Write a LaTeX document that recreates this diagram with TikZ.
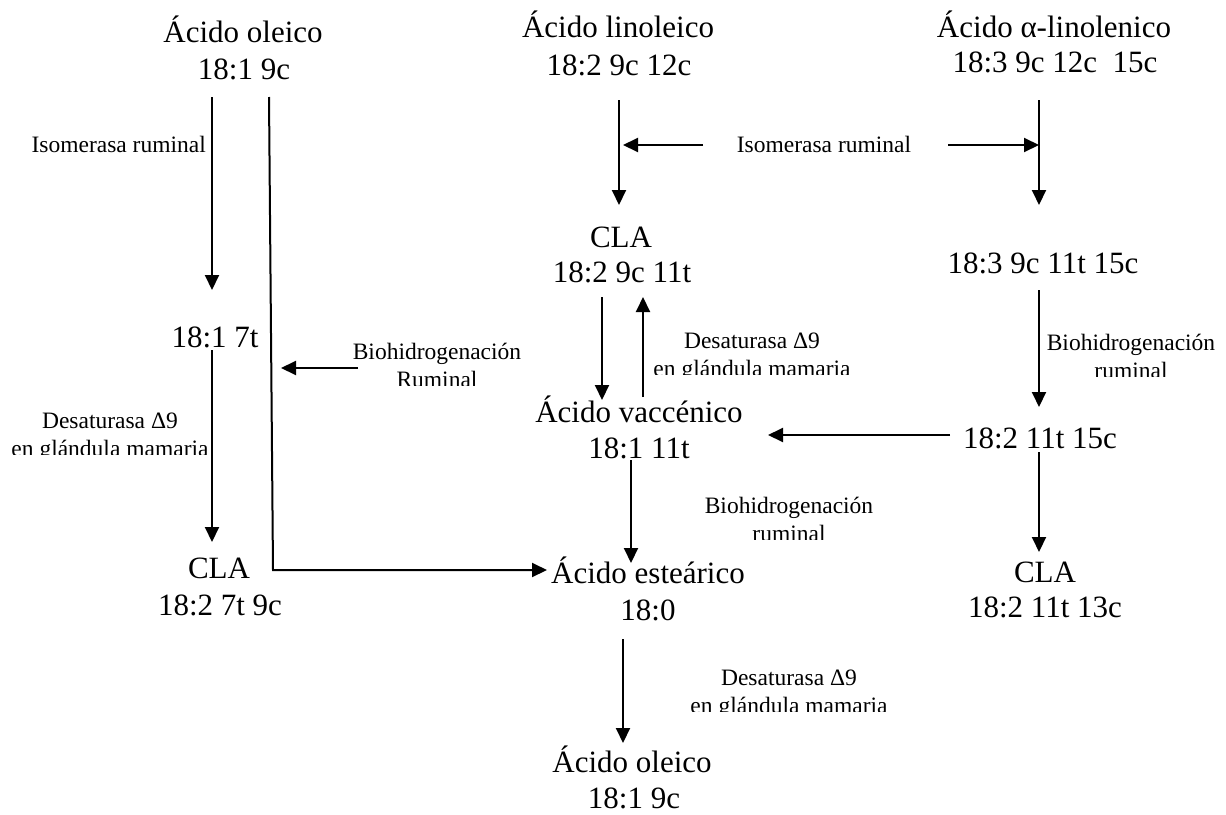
\documentclass[tikz,border=0pt]{standalone}
\usepackage{fontspec}
\setmainfont{Liberation Serif}
\usetikzlibrary{arrows.meta}
\tikzset{
  big/.style={font=\fontsize{31}{37}\selectfont, inner sep=0pt, anchor=base},
  small/.style={font=\fontsize{23.5}{27}\selectfont, inner sep=0pt, anchor=base},
  arr/.style={-{Triangle[length=15pt,width=14pt]}, line width=2pt},
  ln/.style={line width=2pt}
}
\newcommand{\cutlabel}[5]{%
  \node[small] (#1) at (#2,#3) {#4};
  \begin{scope}
    \clip (#2-160,#3+5) rectangle (#2+160,#3+26);
    \node[small] (#1b) at (#2,#3+28) {#5};
  \end{scope}
}
\begin{document}
\begin{tikzpicture}[x=1pt,y=-1pt]
\useasboundingbox (0,0) rectangle (1226,814);

% main texts
\node[big] (ole1)  at (243,42)  {Ácido oleico};
\node[big] (ole1b) at (244,79)  {18:1 9c};
\node[big] (lin)   at (618,37)  {Ácido linoleico};
\node[big] (linb)  at (619,75)  {18:2 9c 12c};
\node[big] (aln)   at (1054,37) {Ácido α-linolenico};
\node[big] (alnb)  at (1055,72) {18:3 9c 12c\ \ 15c};
\node[big] (t7)    at (215,347) {18:1 7t};
\node[big] (cla1)  at (219,578) {CLA};
\node[big] (cla1b) at (220,615) {18:2 7t 9c};
\node[big] (cla2)  at (621,247) {CLA};
\node[big] (cla2b) at (622,282) {18:2 9c 11t};
\node[big] (t31115) at (1043,273) {18:3 9c 11t 15c};
\node[big] (vac)   at (639,422) {Ácido vaccénico};
\node[big] (vacb)  at (639,458) {18:1 11t};
\node[big] (t21115) at (1040,448) {18:2 11t 15c};
\node[big] (est)   at (648,583) {Ácido esteárico};
\node[big] (estb)  at (648,620) {18:0};
\node[big] (cla3)  at (1045,582) {CLA};
\node[big] (cla3b) at (1045,617) {18:2 11t 13c};
\node[big] (ole2)  at (632,772) {Ácido oleico};
\node[big] (ole2b) at (634,808) {18:1 9c};

% labels
\node[small, anchor=base east] (iso1) at (206,152) {Isomerasa ruminal};
\node[small] (iso2) at (824,152) {Isomerasa ruminal};
\cutlabel{des1}{110}{428}{Desaturasa Δ9}{en glándula mamaria}
\cutlabel{bio1}{437}{359}{Biohidrogenación}{Ruminal}
\cutlabel{des2}{752}{348}{Desaturasa Δ9}{en glándula mamaria}
\cutlabel{bio2}{1131}{350}{Biohidrogenación}{ruminal}
\cutlabel{bio3}{789}{513}{Biohidrogenación}{ruminal}
\cutlabel{des3}{789}{685}{Desaturasa Δ9}{en glándula mamaria}

% connector coordinates
\coordinate (a1s) at (212,97);   \coordinate (a1e) at (212,290);
\coordinate (l2s) at (269,97);   \coordinate (l2m) at (273,570); \coordinate (l2e) at (547,570);
\coordinate (a3s) at (212,350);  \coordinate (a3e) at (212,542);
\coordinate (a4s) at (358,368);  \coordinate (a4e) at (281,368);
\coordinate (a5s) at (619,100);  \coordinate (a5e) at (619,205);
\coordinate (a6s) at (703,145);  \coordinate (a6e) at (623,145);
\coordinate (a7s) at (948,145);  \coordinate (a7e) at (1039,145);
\coordinate (a8s) at (1039,100); \coordinate (a8e) at (1039,205);
\coordinate (a9s) at (602,297);  \coordinate (a9e) at (602,400);
\coordinate (a10s) at (643,397); \coordinate (a10e) at (643,297);
\coordinate (a11s) at (1039,290); \coordinate (a11e) at (1039,407);
\coordinate (a12s) at (950,435); \coordinate (a12e) at (768,435);
\coordinate (a13s) at (1039,452); \coordinate (a13e) at (1039,552);
\coordinate (a14s) at (631,460); \coordinate (a14e) at (631,563);
\coordinate (a15s) at (623,639); \coordinate (a15e) at (623,743);

\draw[arr] (a1s) -- (a1e);
\draw[arr] (l2s) -- (l2m) -- (l2e);
\draw[arr] (a3s) -- (a3e);
\draw[arr] (a4s) -- (a4e);
\draw[arr] (a5s) -- (a5e);
\draw[arr] (a6s) -- (a6e);
\draw[arr] (a7s) -- (a7e);
\draw[arr] (a8s) -- (a8e);
\draw[arr] (a9s) -- (a9e);
\draw[arr] (a10s) -- (a10e);
\draw[arr] (a11s) -- (a11e);
\draw[arr] (a12s) -- (a12e);
\draw[arr] (a13s) -- (a13e);
\draw[arr] (a14s) -- (a14e);
\draw[arr] (a15s) -- (a15e);
\end{tikzpicture}
\end{document}
